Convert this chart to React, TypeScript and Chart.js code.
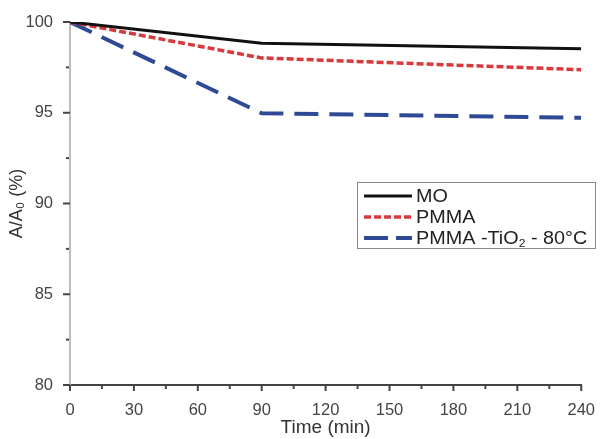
import React, { useEffect, useRef } from "react";
import { Chart, registerables } from "chart.js";

Chart.register(...registerables);

const timeMin = [0, 90, 240];
const moValues = [100, 98.83, 98.52];
const pmmaValues = [100, 98.02, 97.37];
const tio2Values = [100, 94.97, 94.72];
const seriesNames = ["MO", "PMMA", "PMMA -TiO", " - 80°C"];
const xTicks = [0, 30, 60, 90, 120, 150, 180, 210, 240];
const yTicks = [80, 85, 90, 95, 100];

const FONT = "'Liberation Sans', Arial, sans-serif";

const tickPlugin = {
  id: "minorMajorTicks",
  afterDraw(chart: any) {
    const ctx = chart.ctx;
    const x = chart.scales.x;
    const y = chart.scales.y;
    ctx.save();
    ctx.strokeStyle = "#444";
    ctx.lineWidth = 2;
    for (let v = xTicks[0]; v <= xTicks[xTicks.length - 1]; v += 15) {
      const px = x.getPixelForValue(v);
      const len = v % 30 === 0 ? 6 : 4;
      ctx.beginPath();
      ctx.moveTo(px, y.bottom);
      ctx.lineTo(px, y.bottom + len);
      ctx.stroke();
    }
    for (let v = yTicks[0]; v <= yTicks[yTicks.length - 1]; v += 2.5) {
      const py = y.getPixelForValue(v);
      const major = v % 5 === 0;
      ctx.beginPath();
      ctx.moveTo(x.left - (major ? 7 : 4), py);
      ctx.lineTo(x.left - (major ? 0 : 1), py);
      ctx.stroke();
    }
    ctx.restore();
  },
};

const legendPlugin = {
  id: "boxLegend",
  afterDraw(chart: any) {
    const ctx = chart.ctx;
    ctx.save();
    const bx = 357, by = 182, bw = 238, bh = 66;
    ctx.strokeStyle = "#8a8a8a";
    ctx.lineWidth = 1;
    ctx.strokeRect(bx + 0.5, by + 0.5, bw, bh);
    const rows = [196, 217, 238];
    const sx0 = 364, sx1 = 412;
    chart.data.datasets.forEach((ds: any, i: number) => {
      ctx.beginPath();
      ctx.strokeStyle = ds.borderColor;
      ctx.lineWidth = ds.borderWidth;
      ctx.setLineDash(i === 2 ? [24, 8] : ds.borderDash || []);
      ctx.moveTo(sx0, rows[i]);
      ctx.lineTo(sx1, rows[i]);
      ctx.stroke();
    });
    ctx.setLineDash([]);
    ctx.fillStyle = "#222";
    ctx.textBaseline = "middle";
    const tx = 416;
    // slight horizontal stretch to match the reference lettering
    ctx.translate(tx, 0);
    ctx.scale(1.1, 1);
    ctx.font = `18px ${FONT}`;
    ctx.fillText(seriesNames[0], 0, rows[0] + 1);
    ctx.fillText(seriesNames[1], 0, rows[1] + 1);
    ctx.fillText(seriesNames[2], 0, rows[2] + 1);
    const w = ctx.measureText(seriesNames[2]).width;
    ctx.font = `11px ${FONT}`;
    ctx.fillText("2", w, rows[2] + 6);
    const w2 = ctx.measureText("2").width;
    ctx.font = `18px ${FONT}`;
    ctx.fillText(seriesNames[3], w + w2, rows[2] + 1);
    ctx.restore();
  },
};

export default function App() {
  const ref = useRef<HTMLCanvasElement>(null);
  useEffect(() => {
    if (!ref.current) return;
    const toPts = (vals: number[]) => timeMin.map((t, i) => ({ x: t, y: vals[i] }));
    const chart = new Chart(ref.current, {
      type: "line",
      data: {
        datasets: [
          {
            label: seriesNames[0],
            data: toPts(moValues),
            borderColor: "#111111",
            borderWidth: 3,
            pointRadius: 0,
            tension: 0,
          },
          {
            label: seriesNames[1],
            data: toPts(pmmaValues),
            borderColor: "#d63a3c",
            borderWidth: 3.5,
            borderDash: [7, 3],
            pointRadius: 0,
            tension: 0,
          },
          {
            label: seriesNames[2] + "2" + seriesNames[3],
            data: toPts(tio2Values),
            borderColor: "#2f4a94",
            borderWidth: 4,
            borderDash: [24, 11],
            pointRadius: 0,
            tension: 0,
          },
        ],
      },
      options: {
        responsive: false,
        animation: false,
        layout: { padding: { top: 22, right: 20, left: 0, bottom: 0 } },
        plugins: { legend: { display: false }, tooltip: { enabled: false } },
        scales: {
          x: {
            type: "linear",
            min: 0,
            max: 240,
            afterBuildTicks: (s: any) => {
              s.ticks = xTicks.map((v) => ({ value: v }));
            },
            afterFit: (s: any) => {
              s.height = 54;
            },
            grid: { display: false },
            border: { display: true, color: "#444", width: 2 },
            ticks: {
              padding: 8,
              color: "#444",
              font: { family: FONT, size: 16.5 },
              maxRotation: 0,
            },
            title: {
              display: true,
              text: "Time (min)",
              color: "#333",
              font: { family: FONT, size: 19 },
              padding: { top: 0, bottom: 0 },
            },
          },
          y: {
            type: "linear",
            min: 80,
            max: 100,
            afterBuildTicks: (s: any) => {
              s.ticks = yTicks.map((v) => ({ value: v }));
            },
            afterFit: (s: any) => {
              s.width = 70;
            },
            grid: { display: false },
            border: { display: true, color: "#bdbdbd", width: 2 },
            ticks: {
              padding: 9,
              color: "#444",
              font: { family: FONT, size: 16.5 },
            },
            title: {
              display: true,
              text: "A/A₀ (%)",
              color: "#333",
              font: { family: FONT, size: 18 },
              padding: { top: 6, bottom: 0 },
            },
          },
        },
      },
      plugins: [tickPlugin, legendPlugin],
    });
    return () => chart.destroy();
  }, []);
  return (
    <div style={{ position: "absolute", left: 0, top: 0, width: 603, height: 439, background: "#fff" }}>
      <canvas ref={ref} width={603} height={439} />
    </div>
  );
}
